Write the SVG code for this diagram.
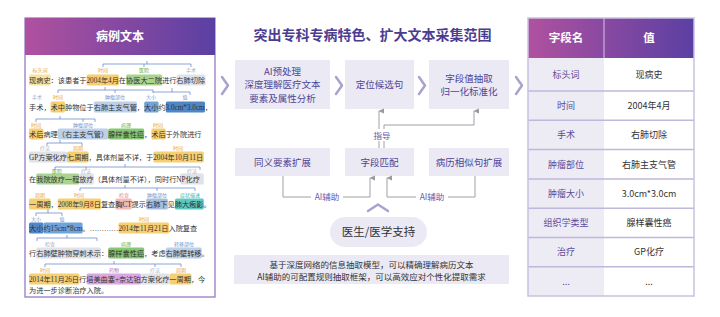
<svg xmlns="http://www.w3.org/2000/svg" width="720" height="317" viewBox="0 0 720 317">
<defs>
<linearGradient id="hdr" x1="0" y1="0" x2="1" y2="0">
<stop offset="0" stop-color="#b0519f"/>
<stop offset="1" stop-color="#5a40a3"/>
</linearGradient>
<marker id="arr" viewBox="0 0 8 8" refX="4" refY="1" markerWidth="6" markerHeight="6" orient="auto-start-reverse" markerUnits="userSpaceOnUse">
<path d="M4 0 L7.5 8 L0.5 8 Z" fill="#9a9aa2"/>
</marker>
<style>
.doc{font-family:"Liberation Serif","Noto Sans CJK SC",serif;font-size:7.2px;fill:#333}
.lb{font-family:"Noto Sans CJK SC","Noto Sans",sans-serif;font-size:5px;text-anchor:middle}
.o{fill:#e8a33a}.g{fill:#5fae4a}.gr{fill:#a9aec0}.b{fill:#6f94cc}.t{fill:#3bb3ad}.p{fill:#e88a8a}.pu{fill:#b070c8}
.br{fill:none;stroke:#5b7fc4;stroke-width:0.7}
.hl{rx:1.5}
.sans{font-family:"Noto Sans CJK SC","Noto Sans",sans-serif}
.box{fill:#ebe9f3}
.bt{font-family:"Noto Sans CJK SC","Noto Sans",sans-serif;font-size:9.5px;fill:#4f4496;text-anchor:middle}
.chev{fill:none;stroke:#a8a3cc;stroke-width:2.5;stroke-linecap:round;stroke-linejoin:round}
.con{fill:none;stroke:#a0a0a8;stroke-width:1}
.cl{font-family:"Noto Sans CJK SC","Noto Sans",sans-serif;font-size:8.5px;fill:#6a58ac;text-anchor:middle}
.tc{font-family:"Noto Sans CJK SC","Noto Sans",sans-serif;font-size:9px;text-anchor:middle}
.sep{stroke:#bfb7dc;stroke-width:1.5}
</style>
</defs>
<rect width="720" height="317" fill="#ffffff"/>

<!-- Left panel -->
<g id="case-text">
<rect x="25" y="18" width="190" height="279" fill="#ffffff" stroke="#8a70c4" stroke-width="1.2"/>
<rect x="25" y="18" width="190" height="37" fill="url(#hdr)"/>
<text x="120" y="41" class="sans" font-size="12" font-weight="bold" fill="#ffffff" text-anchor="middle">病例文本</text>

<!-- highlights -->
<g>
<rect class="hl" x="29" y="74.5" width="21.6" height="11" fill="#f9e3a0"/>
<rect class="hl" x="86.6" y="74.5" width="32.4" height="11" fill="#f6cf72"/>
<rect class="hl" x="126.2" y="74.5" width="36" height="11" fill="#a9d38e"/>
<rect class="hl" x="176.6" y="74.5" width="28.8" height="11" fill="#e0e2ea"/>

<rect class="hl" x="50.6" y="101.5" width="14.4" height="11" fill="#f6cf72"/>
<rect class="hl" x="93.8" y="101.5" width="43.2" height="11" fill="#bcd0ea"/>
<rect class="hl" x="144.2" y="101.5" width="14.4" height="11" fill="#6fa3dc"/>
<rect class="hl" x="165.8" y="101.5" width="39.2" height="11" fill="#4f86c6"/>

<rect class="hl" x="29" y="128.5" width="14.4" height="11" fill="#f6cf72"/>
<rect class="hl" x="57.8" y="128.5" width="50.4" height="11" fill="#bcd0ea"/>
<rect class="hl" x="108.2" y="128.5" width="36" height="11" fill="#86c874"/>
<rect class="hl" x="151.4" y="128.5" width="14.4" height="11" fill="#f6cf72"/>

<rect class="hl" x="29" y="151.5" width="38" height="11" fill="#e0e2ea"/>
<rect class="hl" x="67" y="151.5" width="21.6" height="11" fill="#f6cf72"/>
<rect class="hl" x="153.4" y="151.5" width="50.4" height="11" fill="#f6cf72"/>

<rect class="hl" x="36.2" y="173.5" width="43.2" height="11" fill="#a9d38e"/>
<rect class="hl" x="79.4" y="173.5" width="14.4" height="11" fill="#e0e2ea"/>
<rect class="hl" x="180.2" y="173.5" width="23.6" height="11" fill="#e0e2ea"/>

<rect class="hl" x="29" y="198.5" width="21.6" height="11" fill="#f6cf72"/>
<rect class="hl" x="57.8" y="198.5" width="43.2" height="11" fill="#f6cf72"/>
<rect class="hl" x="115.4" y="198.5" width="16.4" height="11" fill="#f3b9b4"/>
<rect class="hl" x="146.2" y="198.5" width="21.6" height="11" fill="#a9bedc"/>
<rect class="hl" x="175" y="198.5" width="28.8" height="11" fill="#5cc9c2"/>

<rect class="hl" x="29" y="222.5" width="14.4" height="11" fill="#4f86c6"/>
<rect class="hl" x="43.4" y="222.5" width="39.2" height="11" fill="#6fa3dc"/>
<rect class="hl" x="118.6" y="222.5" width="50.4" height="11" fill="#f6cf72"/>

<rect class="hl" x="36.2" y="247.5" width="64.8" height="11" fill="#e0e2ea"/>
<rect class="hl" x="108.2" y="247.5" width="36" height="11" fill="#86c874"/>
<rect class="hl" x="165.8" y="247.5" width="36" height="11" fill="#bcd0ea"/>

<rect class="hl" x="29" y="273.5" width="50.4" height="11" fill="#f6cf72"/>
<rect class="hl" x="86.6" y="273.5" width="54.5" height="11" fill="#d9a8e4"/>
<rect class="hl" x="141.1" y="273.5" width="28.8" height="11" fill="#e0e2ea"/>
<rect class="hl" x="169.9" y="273.5" width="21.6" height="11" fill="#f6cf72"/>
</g>

<!-- bracket lines -->
<g>
<path class="br" d="M103 67 V64 H191 V67 M144 64 V67 M147 64 V61"/>
<path class="br" d="M58 93 V90 H153 V93 M105 90 V87 M115 90 V93 M153 92 H190 V95 M172 92 V88"/>
<path class="br" d="M36 122 V119 H95 V122 M60 119 V116 M83 119 V122"/>
<path class="br" d="M47 146 V143 H82 V146 M60 143 V140"/>
<path class="br" d="M55 170 V167 H200 V170 M125 167 V164 M86 167 V170"/>
<path class="br" d="M80 191 V188 H195 V191 M125 188 V185 M157 188 V191"/>
<path class="br" d="M36 216 V213 H62 V216 M48 213 V209"/>
<path class="br" d="M37 241 V238 H97 V241 M67 238 V235"/>
<path class="br" d="M45 267 V264 H181 V267 M114 264 V261 M155 264 V267"/>
</g>

<!-- labels -->
<g>
<text class="lb o" x="40" y="71.8">标头词</text>
<text class="lb o" x="103" y="71.8">时间</text>
<text class="lb g" x="144" y="71.8">医院</text>
<text class="lb gr" x="191" y="71.8">手术</text>

<text class="lb gr" x="37" y="98.8">手术</text>
<text class="lb o" x="58" y="98.8">时间</text>
<text class="lb b" x="115" y="98.8">肿瘤部位</text>
<text class="lb b" x="151" y="98.8">大小</text>
<text class="lb b" x="185" y="98.8">值</text>

<text class="lb o" x="36" y="126.8">时间</text>
<text class="lb b" x="83" y="126.8">肿瘤部位</text>
<text class="lb g" x="126" y="126.8">病理</text>
<text class="lb o" x="158" y="126.8">时间</text>

<text class="lb gr" x="45" y="149.8">疗法</text>
<text class="lb o" x="78" y="149.8">周期</text>
<text class="lb o" x="178" y="149.8">时间</text>

<text class="lb g" x="57" y="172.8">医院</text>
<text class="lb gr" x="86" y="172.8">疗法</text>
<text class="lb gr" x="192" y="172.8">疗法</text>

<text class="lb o" x="40" y="196.8">周期</text>
<text class="lb o" x="79" y="196.8">时间</text>
<text class="lb p" x="124" y="196.8">检查</text>
<text class="lb b" x="157" y="196.8">肿瘤部位</text>
<text class="lb t" x="190" y="196.8">症状描述</text>

<text class="lb b" x="36" y="220.8">大小</text>
<text class="lb b" x="62" y="220.8">值</text>
<text class="lb o" x="144" y="220.8">时间</text>

<text class="lb gr" x="50" y="245.8">检查</text>
<text class="lb g" x="126" y="245.8">病理</text>
<text class="lb b" x="184" y="245.8">转移部位</text>

<text class="lb o" x="45" y="271.8">时间</text>
<text class="lb pu" x="114" y="271.8">药物</text>
<text class="lb gr" x="155" y="271.8">疗法</text>
<text class="lb o" x="181" y="271.8">周期</text>
</g>

<!-- document text -->
<g>
<text class="doc" x="29" y="82.6">现病史：该患者于2004年4月在协医大二院进行右肺切除</text>
<text class="doc" x="29" y="109.6">手术，术中肿物位于右肺主支气管，大小约3.0cm*3.0cm，</text>
<text class="doc" x="29" y="136.6">术后病理（右主支气管）腺样囊性癌，术后于外院进行</text>
<text class="doc" x="29" y="159.6">GP方案化疗七周期，具体剂量不详，于2004年10月11日</text>
<text class="doc" x="29" y="181.6">在我院放疗一程放疗（具体剂量不详），同时行NP化疗</text>
<text class="doc" x="29" y="206.6">一周期，2008年9月8日复查胸CT提示右肺下见肺大疱影。</text>
<text class="doc" x="29" y="230.6">大小约15cm*8cm。…………2014年11月21日入院复查</text>
<text class="doc" x="29" y="255.6">行右肺壁肿物穿刺术示：腺样囊性癌，考虑右肺壁转移。</text>
<text class="doc" x="29" y="281.6">2014年11月26日行培美曲塞+奈达铂方案化疗一周期，今</text>
<text class="doc" x="29" y="292.6">为进一步诊断治疗入院。</text>
</g>
</g>

<!-- Title -->
<g id="title">
<text x="372.5" y="40" class="sans" font-size="14" font-weight="bold" fill="#4a3d8f" text-anchor="middle">突出专科专病特色、扩大文本采集范围</text>
</g>

<!-- Chevrons -->
<g id="chevrons">
<path class="chev" d="M222 77 L228 85.5 L222 94"/>
<path class="chev" d="M336 77 L342 85.5 L336 94"/>
<path class="chev" d="M419 77 L425 85.5 L419 94"/>
<path class="chev" d="M516 77 L522 85.5 L516 94"/>
<path class="chev" d="M368 211 L378 204.5 L388 211" stroke-width="3"/>
</g>

<!-- Top row nodes -->
<g id="ai-preprocess">
<rect class="box" x="235" y="60" width="95" height="49"/>
<text class="bt" x="282.5" y="74.5">AI预处理</text>
<text class="bt" x="282.5" y="88.3">深度理解医疗文本</text>
<text class="bt" x="282.5" y="102.1">要素及属性分析</text>
</g>
<g id="locate-sentence">
<rect class="box" x="345" y="60" width="69" height="49"/>
<text class="bt" x="379.5" y="88.3">定位候选句</text>
</g>
<g id="extract-value">
<rect class="box" x="429" y="60" width="80" height="49"/>
<text class="bt" x="469" y="81.5">字段值抽取</text>
<text class="bt" x="469" y="95.3">归一化标准化</text>
</g>

<!-- Bottom row nodes -->
<g id="synonym-expand">
<rect class="box" x="235" y="148" width="95" height="28"/>
<text class="bt" x="282.5" y="165.5" fill="#5c4ea0">同义要素扩展</text>
</g>
<g id="field-match">
<rect class="box" x="345" y="148" width="69" height="28"/>
<text class="bt" x="379.5" y="165.5">字段匹配</text>
</g>
<g id="similar-expand">
<rect class="box" x="429" y="148" width="80" height="28"/>
<text class="bt" x="469" y="165.5">病历相似句扩展</text>
</g>

<!-- Connectors -->
<g id="connectors">
<path class="con" d="M379 148 V111" marker-end="url(#arr)"/>
<path class="con" d="M384 148 V125 H474 V111" marker-end="url(#arr)"/>
<rect x="370" y="129" width="24" height="12" fill="#ffffff"/>
<text class="cl" x="382" y="138.5">指导</text>
<path class="con" d="M283 176 V197 H370 V178" marker-end="url(#arr)"/>
<path class="con" d="M475 176 V197 H387 V178" marker-end="url(#arr)"/>
<rect x="311" y="191" width="32" height="12" fill="#ffffff"/>
<text class="cl" x="327" y="200">AI辅助</text>
<rect x="416" y="191" width="32" height="12" fill="#ffffff"/>
<text class="cl" x="432" y="200">AI辅助</text>
</g>

<!-- Doctor support -->
<g id="doctor-support">
<rect x="330" y="217" width="97" height="30" rx="15" fill="#ebe9f3"/>
<text x="378.5" y="236" class="sans" font-size="11.5" fill="#333" text-anchor="middle">医生/医学支持</text>
</g>

<!-- Note -->
<g id="note">
<rect x="234" y="255" width="275" height="29" fill="#ebe9f3"/>
<text x="371.5" y="268" class="sans" font-size="8.5" fill="#333" text-anchor="middle">基于深度网络的信息抽取模型，可以精确理解病历文本</text>
<text x="371.5" y="279.5" class="sans" font-size="8.5" fill="#333" text-anchor="middle">AI辅助的可配置规则抽取框架，可以高效应对个性化提取需求</text>
</g>

<!-- Table -->
<g id="field-table">
<rect x="528" y="18" width="166" height="278" fill="#ffffff"/>
<rect x="528" y="58" width="76" height="238" fill="#edebf4"/>
<rect x="528" y="18" width="166" height="40" fill="url(#hdr)"/>
<line x1="604" y1="18" x2="604" y2="58" stroke="#d6c6ea" stroke-width="1"/>
<text x="566" y="42" class="sans" font-size="11.5" font-weight="bold" fill="#ffffff" text-anchor="middle">字段名</text>
<text x="649" y="42" class="sans" font-size="11.5" font-weight="bold" fill="#ffffff" text-anchor="middle">值</text>
<g>
<line class="sep" x1="528" y1="91" x2="694" y2="91"/>
<line class="sep" x1="528" y1="120.3" x2="694" y2="120.3"/>
<line class="sep" x1="528" y1="149.6" x2="694" y2="149.6"/>
<line class="sep" x1="528" y1="178.9" x2="694" y2="178.9"/>
<line class="sep" x1="528" y1="208.2" x2="694" y2="208.2"/>
<line class="sep" x1="528" y1="237.5" x2="694" y2="237.5"/>
<line class="sep" x1="528" y1="266.8" x2="694" y2="266.8"/>
</g>
<rect x="528" y="18" width="166" height="278" fill="none" stroke="#c9c1e1" stroke-width="1.5"/>
<g fill="#5a4a9a">
<text class="tc" x="566" y="78">标头词</text>
<text class="tc" x="566" y="109">时间</text>
<text class="tc" x="566" y="138.3">手术</text>
<text class="tc" x="566" y="167.5">肿瘤部位</text>
<text class="tc" x="566" y="196.8">肿瘤大小</text>
<text class="tc" x="566" y="226">组织学类型</text>
<text class="tc" x="566" y="255.3">治疗</text>
<text class="tc" x="566" y="284.5">...</text>
</g>
<g fill="#333333">
<text class="tc" x="649" y="78">现病史</text>
<text class="tc" x="649" y="109">2004年4月</text>
<text class="tc" x="649" y="138.3">右肺切除</text>
<text class="tc" x="649" y="167.5">右肺主支气管</text>
<text class="tc" x="649" y="196.8">3.0cm*3.0cm</text>
<text class="tc" x="649" y="226">腺样囊性癌</text>
<text class="tc" x="649" y="255.3">GP化疗</text>
<text class="tc" x="649" y="284.5">...</text>
</g>
</g>
</svg>
